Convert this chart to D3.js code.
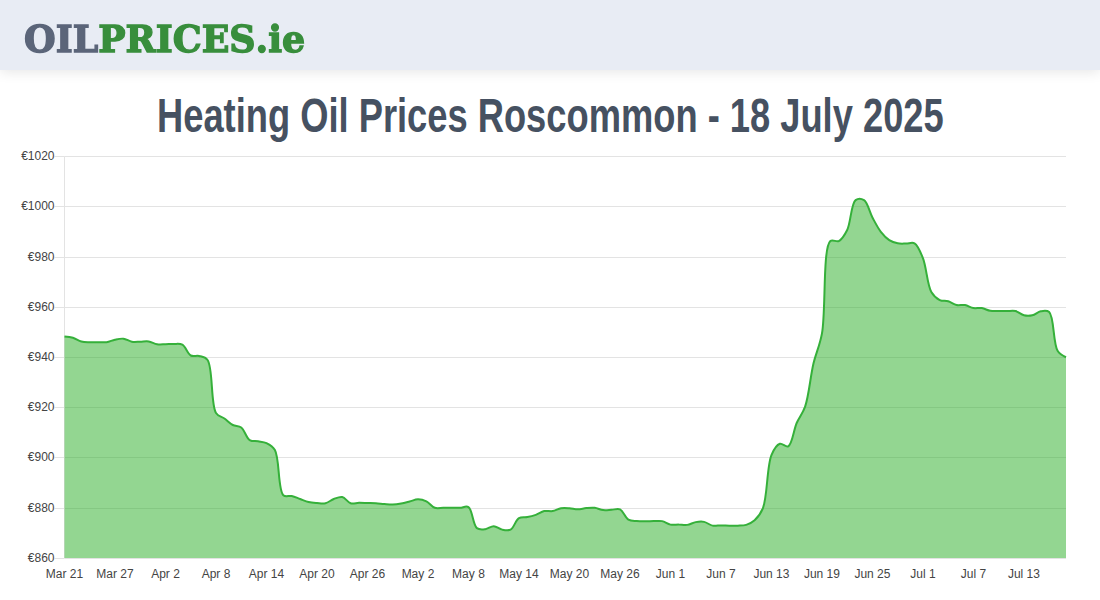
<!DOCTYPE html>
<html>
<head>
<meta charset="utf-8">
<script src="https://cdn.jsdelivr.net/npm/d3@7"></script>
<style>
html,body{margin:0;padding:0;background:#fff;overflow:hidden}
#hdr{position:absolute;left:0;top:0;width:1100px;height:70px;background:#e8ecf4;box-shadow:0 2px 12px rgba(0,0,0,.10)}
svg{position:absolute;left:0;top:0}
</style>
</head>
<body>
<div id="hdr"></div>
<svg id="c" width="1100" height="600"></svg>
<script>
const chartTitle = "Heating Oil Prices Roscommon - 18 July 2025";
const logoParts = ["OIL", "PRICES", ".ie"];
const yTicks = [860, 880, 900, 920, 940, 960, 980, 1000, 1020];
const xTickLabels = ["Mar 21","Mar 27","Apr 2","Apr 8","Apr 14","Apr 20","Apr 26","May 2","May 8","May 14","May 20","May 26","Jun 1","Jun 7","Jun 13","Jun 19","Jun 25","Jul 1","Jul 7","Jul 13"];
const prices = [
948.3,947.8,946.3,946,946,946,947,947.4,946.2,946.2,
946.3,945.2,945.2,945.3,945,940.7,940.5,938.9,917.8,915.6,
913,912,907,906.5,905.8,903,885,884.7,883.5,882.3,
881.9,881.8,883.5,884.3,881.8,882,881.9,881.8,881.5,881.3,
881.7,882.5,883.4,882.6,880,880,880,880,880.3,871.9,
871.5,872.7,871.3,871.3,875.9,876.3,877.2,878.7,878.7,879.8,
879.8,879.4,879.9,880,879.1,879.2,879.4,875.3,874.7,874.6,
874.7,874.7,873.3,873.3,873.2,874.3,874.4,872.9,873,872.9,
872.9,873.2,875,880,901,905.5,904.5,913.8,920.3,937.6,
949.4,986.3,986.3,990.7,1002.6,1002.6,995.7,990,986.7,985.4,
985.3,985.4,979.5,966,962.8,962.3,960.8,960.8,959.6,959.6,
958.5,958.4,958.4,958.4,956.7,956.7,958.3,958,942.6,940
];
const tickEvery = 6;

const svg = d3.select("#c");
const L = 64.5, R = 1066, T = 156.5, B = 558;
const x = d3.scaleLinear().domain([0, prices.length - 1]).range([L, R]);
const y = d3.scaleLinear().domain([860, 1020]).range([B, T]);
const sans = "'Liberation Sans', Arial, sans-serif";

// fit a text to a target width by a horizontal scale about its left edge
function fit(sel, left, baseline, width) {
  const w = sel.node().getComputedTextLength();
  sel.attr("transform", `translate(${left},${baseline}) scale(${width / w},1)`);
}

// logo
const logo = svg.append("text")
  .attr("font-family", "'DejaVu Serif', serif").attr("font-weight", 700)
  .attr("font-size", 38).attr("stroke-width", 1.4).style("filter", "blur(.4px)");
const logoCols = ["#5b6579", "#388e3c", "#388e3c"];
logoParts.forEach((p, i) => logo.append("tspan").attr("fill", logoCols[i]).attr("stroke", logoCols[i]).text(p));
fit(logo, 24, 51.5, 280);

// title
const ttl = svg.append("text")
  .attr("font-family", "'Liberation Sans', sans-serif").attr("font-weight", 700)
  .attr("font-size", 49).attr("fill", "#465161").text(chartTitle);
fit(ttl, 157, 131.5, 787);

// grid + axes
const snap = d => Math.round(y(d) - .25) + .5;
const gy = svg.append("g").attr("transform", `translate(${L},0)`)
  .call(d3.axisLeft(y).tickValues(yTicks).tickSize(10).tickPadding(0).tickFormat(d => "€" + d));
gy.select(".domain").attr("stroke", "#e3e3e3").attr("d", `M0,${T}V${B}`);
gy.selectAll(".tick").attr("transform", d => `translate(0,${snap(d)})`);
gy.selectAll(".tick line").attr("stroke", "#e3e3e3");
gy.selectAll(".tick text").attr("font-family", sans).attr("font-size", 12).attr("fill", "#444").attr("x", -10).attr("dy", ".28em");
svg.append("g").selectAll("line").data(yTicks).join("line")
  .attr("x1", L).attr("x2", R).attr("y1", snap).attr("y2", snap)
  .attr("stroke", "#e3e3e3");

// area + line
const curve = d3.curveCatmullRom.alpha(0.5);
svg.append("path").datum(prices)
  .attr("d", d3.area().x((d, i) => x(i)).y0(B).y1(d => y(d)).curve(curve))
  .attr("fill", "rgb(39,173,35)").attr("fill-opacity", .5);
svg.append("path").datum(prices)
  .attr("d", d3.line().x((d, i) => x(i)).y(d => y(d)).curve(curve))
  .attr("fill", "none").attr("stroke", "#35b03a").attr("stroke-width", 2);

// x labels
const xTickIdx = xTickLabels.map((_, i) => i * tickEvery);
const gx = svg.append("g").attr("transform", `translate(-0.5,${B})`)
  .call(d3.axisBottom(x).tickValues(xTickIdx).tickSize(0).tickPadding(11).tickFormat((d, i) => xTickLabels[i]));
gx.select(".domain").remove();
gx.selectAll(".tick text").attr("font-family", sans).attr("font-size", 12).attr("fill", "#444");
</script>
</body>
</html>
